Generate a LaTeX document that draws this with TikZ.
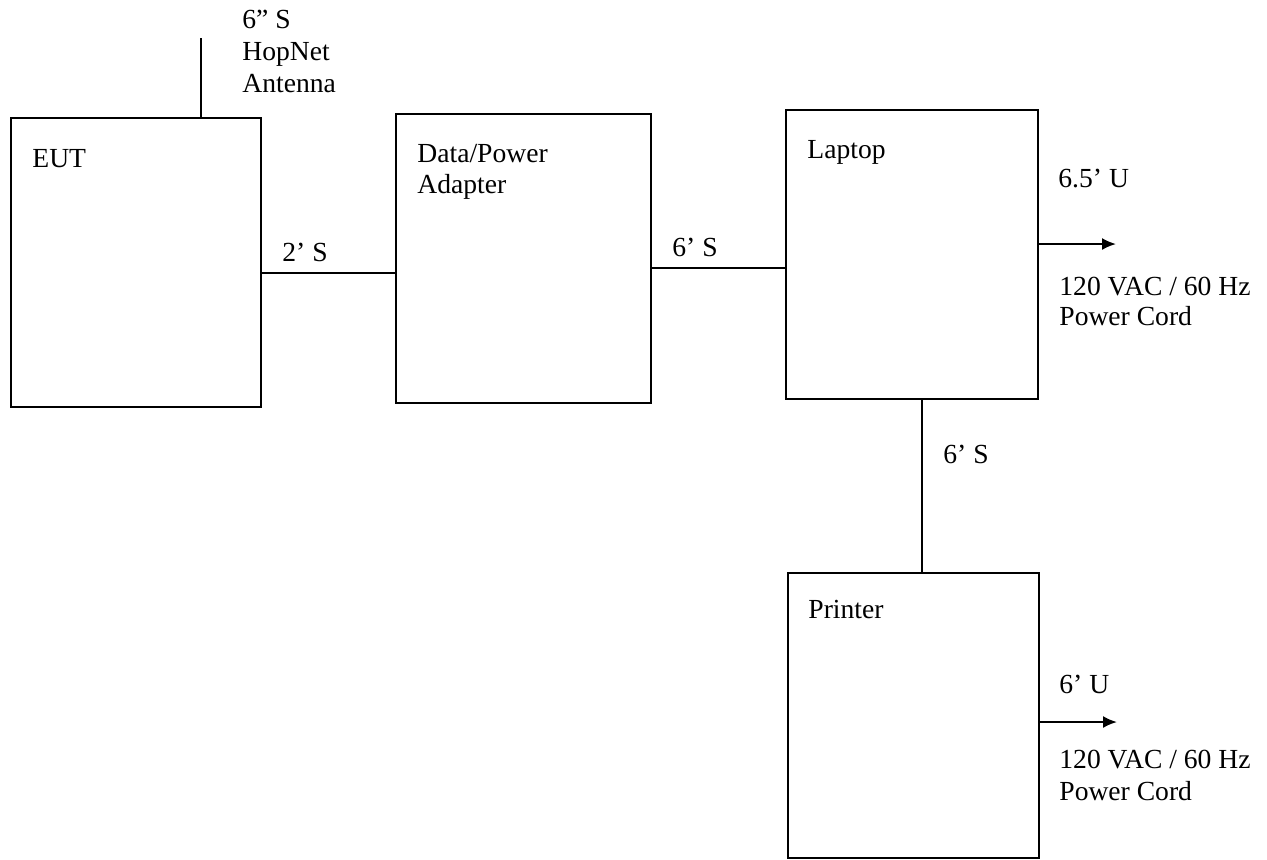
\documentclass[tikz,border=0pt]{standalone}
\usepackage{fontspec}
\setmainfont{Liberation Serif}
\usetikzlibrary{arrows.meta}

\begin{document}
\begin{tikzpicture}[x=0.5pt, y=-0.5pt]

	% cadre de l'image (en pixels, y vers le bas)
	\useasboundingbox (0,0) rectangle (1267,859);

	\tikzset{box/.style={
				draw=black,
				line width=1pt,
				inner sep=0pt,
				anchor=north west
			}}

	\tikzset{lbl/.style={anchor=base west, inner sep=0pt,
				font=\fontsize{13.8pt}{16pt}\selectfont}}
	\tikzset{cable/.style={line width=1pt}}
	\tikzset{pwr/.style={line width=1pt, -{Latex[length=7pt, width=6pt]}}}

	% Boites : coin haut gauche
	\node[box, minimum width=125pt,   minimum height=144.5pt] (eut)   at (10,117)  {};
	\node[box, minimum width=127.5pt, minimum height=144.5pt] (adapt) at (395,113) {};
	\node[box, minimum width=126pt,   minimum height=144.5pt] (lap)   at (785,109) {};
	\node[box, minimum width=125.5pt, minimum height=142.5pt] (prn)   at (787,572) {};

	\node[lbl] (eutlbl)   at (32,167)  {EUT};
	\node[lbl] (adaptlbl) at (417,162) {Data/Power};
	\node[lbl] (adaptlb2) at (417,193) {Adapter};
	\node[lbl] (laplbl)   at (807,158) {Laptop};
	\node[lbl] (prnlbl)   at (808,618) {Printer};

	% Antenne
	\coordinate (ant) at (201,38);
	\draw[cable] (ant) -- (ant |- eut.north);
	\foreach \t [count=\i] in {6” S, HopNet, Antenna}{
			\node[lbl] (ant\i) at (242, {-4+32*\i}) {\t};
		}

	% Cables
	\draw[cable] ([yshift=-5pt]eut.east) -- ([yshift=-5pt]eut.east -| adapt.west);
	\draw[cable] ([yshift=-4.75pt]adapt.east) -- ([yshift=-4.75pt]adapt.east -| lap.west);
	\draw[cable] ([xshift=5pt]lap.south) -- ([xshift=5pt]lap.south |- prn.north);

	\node[lbl] (c1) at (282,261) {2’ S};
	\node[lbl] (c2) at (672,256) {6’ S};
	\node[lbl] (c3) at (943,463) {6’ S};

	% Cordons secteur
	\coordinate (lapcord) at (1116,244);
	\coordinate (prncord) at (1117,722);
	\draw[pwr] (lap.east |- lapcord) -- (lapcord);
	\draw[pwr] (prn.east |- prncord) -- (prncord);

	\node[lbl] (lapu)  at (1058,187) {6.5’ U};
	\node[lbl] (lapv)  at (1059,295) {120 VAC / 60 Hz};
	\node[lbl] (lapp)  at (1059,325) {Power Cord};
	\node[lbl] (prnu)  at (1059,693) {6’ U};
	\node[lbl] (prnv)  at (1059,768) {120 VAC / 60 Hz};
	\node[lbl] (prnp)  at (1059,800) {Power Cord};

\end{tikzpicture}
\end{document}
